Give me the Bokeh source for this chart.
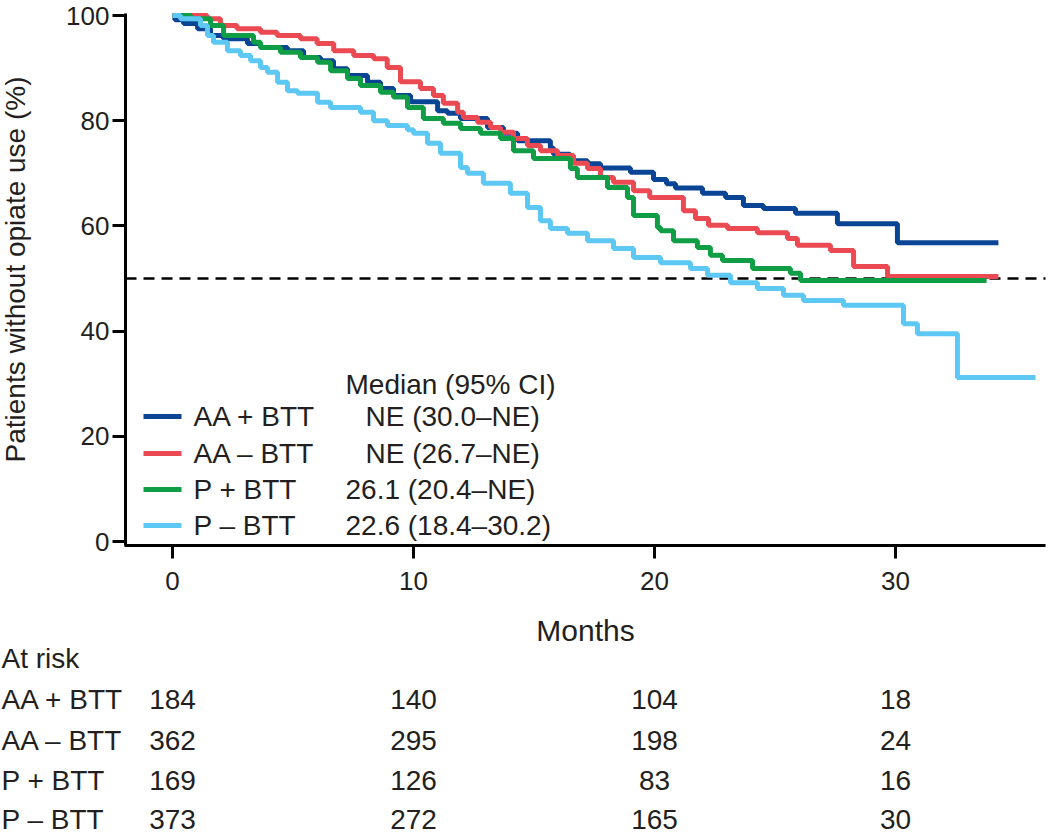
import math
from bokeh.plotting import figure
from bokeh.models import Range1d, FixedTicker, LinearAxis
from bokeh.embed import file_html
from bokeh.resources import INLINE
from bokeh.core.properties import value

# ---------------- data ----------------
groups = ["AA + BTT", "AA – BTT", "P + BTT", "P – BTT"]
medians = ["NE (30.0–NE)", "NE (26.7–NE)", "26.1 (20.4–NE)", "22.6 (18.4–30.2)"]
median_header = "Median (95% CI)"
colors = ["#0a4595", "#ec4a53", "#0f9d46", "#5dc8f4"]

aa_btt_t = [0, 0.1, 0.46, 1.04, 1.58, 2.12, 3.11, 3.65, 4.77, 5.44, 6.14, 6.68, 7.26, 8.09, 8.63, 9.17,
            9.88, 11.0, 11.41, 11.95, 13.07, 13.73, 14.32, 15.68, 15.81, 16.5, 17.22, 17.76, 19.0,
            19.96, 20.5, 20.87, 21.99, 22.95, 23.69, 24.52, 25.85, 27.59, 30.08, 34.27]
aa_btt_s = [100, 99.2, 98.5, 97.5, 96.2, 95.6, 94.7, 93.9, 93.3, 92.0, 91.4, 89.9, 88.6, 87.3, 86.1,
            84.8, 83.6, 81.9, 81.4, 80.4, 78.7, 77.6, 76.2, 74.8, 73.6, 72.4, 71.8, 71.0, 70.2, 68.8,
            68.0, 67.2, 66.2, 65.4, 63.9, 63.3, 62.4, 60.4, 56.8, 56.8]

aa_nobtt_t = [0, 1.44, 1.99, 2.68, 3.65, 4.34, 5.31, 6.0, 6.69, 7.52, 8.35, 8.91, 9.46, 10.29, 10.83,
              11.24, 11.83, 12.07, 12.66, 13.20, 13.61, 14.15, 14.73, 15.27, 15.98, 16.64, 17.22,
              17.76, 18.30, 19.13, 19.8, 21.20, 21.70, 22.24, 23.03, 24.27, 25.52, 25.93, 27.30,
              28.26, 29.67, 34.27]
aa_nobtt_s = [100, 99.4, 98.1, 97.5, 96.8, 96.2, 95.6, 94.7, 93.3, 92.4, 91.8, 90.1, 87.4, 86.1, 84.8,
              83.3, 81.6, 80.6, 79.7, 78.7, 77.8, 76.6, 75.3, 74.3, 73.4, 71.9, 70.9, 69.2, 68.3, 66.7,
              65.4, 62.9, 61.4, 60.1, 59.5, 58.7, 57.6, 56.3, 55.3, 52.3, 50.4, 50.4]

p_btt_t = [0, 0.75, 1.58, 2.12, 3.36, 3.65, 4.48, 5.31, 6.02, 6.56, 7.26, 7.80, 8.63, 9.17, 9.75,
           10.41, 11.24, 11.95, 12.78, 13.61, 14.15, 14.98, 16.51, 16.80, 18.05, 18.88, 19.13,
           20.12, 20.25, 20.79, 21.78, 22.32, 22.82, 24.07, 25.64, 26.06, 33.78]
p_btt_s = [100, 99.4, 98.1, 96.2, 94.9, 93.9, 93.0, 92.0, 91.1, 89.5, 88.0, 86.7, 85.4, 84.5, 82.5,
           80.4, 79.5, 78.5, 77.6, 76.6, 74.3, 72.8, 70.9, 69.2, 67.3, 65.4, 62.0, 59.7, 59.1, 57.2,
           55.9, 54.4, 53.4, 51.9, 51.0, 49.6, 49.6]

p_nobtt_t = [0, 0.33, 1.16, 1.45, 1.70, 2.28, 2.82, 3.24, 3.65, 3.94, 4.36, 4.77, 5.19, 6.02, 6.56,
             7.80, 8.34, 8.92, 9.75, 10.0, 10.58, 11.12, 11.95, 12.24, 12.90, 14.02, 14.73, 15.27,
             15.68, 16.39, 17.22, 18.30, 19.13, 20.25, 21.49, 22.20, 23.15, 24.27, 25.35, 26.18,
             27.84, 30.33, 30.91, 32.57, 35.81]
p_nobtt_s = [100, 99.4, 98.1, 96.2, 94.9, 93.3, 92.4, 91.4, 90.1, 89.2, 87.3, 85.7, 85.2, 83.5, 82.5,
             81.6, 80.0, 79.1, 78.3, 77.6, 75.7, 73.8, 71.1, 70.0, 68.1, 66.2, 63.5, 61.0, 59.5, 58.6,
             57.2, 55.7, 54.0, 53.0, 51.9, 50.6, 49.2, 48.1, 46.8, 45.8, 44.9, 41.4, 39.5, 31.2, 31.2]

median_line = 50
y_ticks = [0, 20, 40, 60, 80, 100]
x_ticks = [0, 10, 20, 30]

risk_times = [0, 10, 20, 30]
risk_aa_btt = [184, 140, 104, 18]
risk_aa_nobtt = [362, 295, 198, 24]
risk_p_btt = [169, 126, 83, 16]
risk_p_nobtt = [373, 272, 165, 30]

series_t = [aa_btt_t, aa_nobtt_t, p_btt_t, p_nobtt_t]
series_s = [aa_btt_s, aa_nobtt_s, p_btt_s, p_nobtt_s]
risk_rows = [risk_aa_btt, risk_aa_nobtt, risk_p_btt, risk_p_nobtt]

# ---------------- layout ----------------
FONT_NAME = "Liberation Sans"
FONT = value(FONT_NAME)
TXT = "#231f20"
W, H = 1050, 837
X_ORIGIN_PX, PX_PER_X = 172, 24.1     # where month 0 sits, pixels per month
Y_ORIGIN_PX, PX_PER_Y = 541, 5.26     # where 0 % sits, pixels per percent


def dxp(px):  # canvas pixel x -> data x
    return (px - X_ORIGIN_PX) / PX_PER_X


def dyp(py):  # canvas pixel y -> data y
    return (Y_ORIGIN_PX - py) / PX_PER_Y


# plotting area (axes box) in data units
PX0, PX1 = dxp(125), dxp(1045)
PY0, PY1 = dyp(545), dyp(13)

p = figure(width=W, height=H,
           x_range=Range1d(dxp(0), dxp(W)), y_range=Range1d(dyp(H), dyp(0)),
           x_axis_type=None, y_axis_type=None,
           output_backend="svg", toolbar_location=None,
           min_border_left=0, min_border_right=0, min_border_top=0, min_border_bottom=0)
p.outline_line_color = None
p.xgrid.visible = False
p.ygrid.visible = False
p.background_fill_color = "white"
p.border_fill_color = "white"

xaxis = LinearAxis(fixed_location=PY0, bounds=(PX0 - 0.06, PX1), ticker=FixedTicker(ticks=x_ticks))
yaxis = LinearAxis(fixed_location=PX0, bounds=(PY0, PY1), ticker=FixedTicker(ticks=y_ticks))
for ax in (xaxis, yaxis):
    ax.axis_line_width = 3
    ax.axis_line_color = "black"
    ax.major_tick_line_width = 3
    ax.major_tick_line_color = "black"
    ax.major_tick_in = 0
    ax.major_tick_out = 13
    ax.minor_tick_line_color = None
    ax.major_label_text_font = FONT_NAME
    ax.major_label_text_font_size = "26px"
    ax.major_label_text_color = TXT
yaxis.major_label_standoff = 3
xaxis.major_label_standoff = 13
p.add_layout(xaxis, "below")
p.add_layout(yaxis, "left")

# median reference line across the plotting area
p.segment(x0=[PX0], x1=[PX1], y0=[median_line], y1=[median_line], line_color="black",
          line_width=2.5, line_dash="11 7")

for tt, ss, c in zip(series_t, series_s, colors):
    p.step(x=tt, y=ss, mode="after", line_color=c, line_width=5)


def txt(x, y, text, size="28px", align="left", angle=0.0):
    p.text(x=[x], y=[y], text=[text], text_font=FONT, text_font_size=size, text_color=TXT,
           text_align=align, text_baseline="middle", angle=angle)


# y-axis title
txt(dxp(15), dyp(269), "Patients without opiate use (%)", align="center", angle=math.pi / 2)

# legend (custom, two columns)
txt(dxp(345), dyp(384), median_header)
row_y = [416, 453, 489, 525]
med_x = [365, 365, 345, 345]
for i, (g, m, c) in enumerate(zip(groups, medians, colors)):
    yy = dyp(row_y[i])
    p.segment(x0=[dxp(143)], x1=[dxp(181)], y0=[yy], y1=[yy], line_color=c, line_width=5)
    txt(dxp(193), yy, g)
    txt(dxp(med_x[i]), yy, m)

# x-axis title and at-risk table
txt((PX0 + PX1) / 2, dyp(630), "Months", size="30px", align="center")
txt(dxp(1), dyp(658), "At risk")
table_y = [699, 740, 780, 819]
for i, (g, counts) in enumerate(zip(groups, risk_rows)):
    yy = dyp(table_y[i])
    txt(dxp(1), yy, g)
    p.text(x=risk_times, y=[yy] * len(risk_times), text=[str(c) for c in counts],
           text_font=FONT, text_font_size="28px", text_color=TXT, text_align="center",
           text_baseline="middle")

open("out.html", "w").write(file_html(p, INLINE))
